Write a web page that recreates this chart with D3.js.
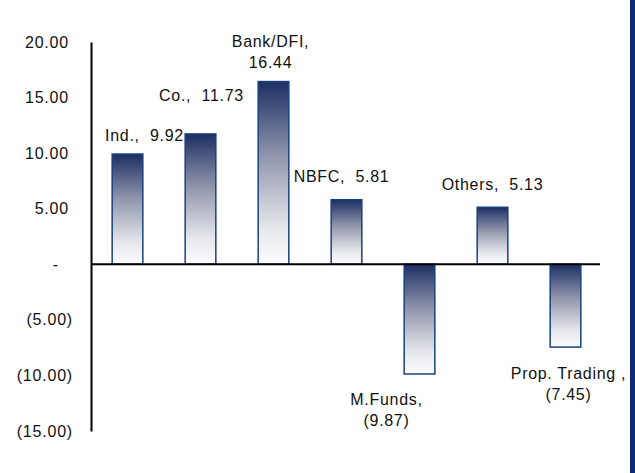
<!DOCTYPE html>
<html>
<head>
<meta charset="utf-8">
<script src="https://cdn.jsdelivr.net/npm/d3@7"></script>
<style>
  html, body { margin: 0; padding: 0; background: #fff; }
  svg { display: block; font-family: "Liberation Sans", Arial, sans-serif; }
</style>
</head>
<body>
<svg id="chart" width="635" height="473"></svg>
<script>
// Net flows by investor type
const categories = ["Ind.", "Co.", "Bank/DFI", "NBFC", "M.Funds", "Others", "Prop. Trading"];
const values = [9.92, 11.73, 16.44, 5.81, -9.87, 5.13, -7.45];
const labelLines = [
  ["Ind.,  9.92"],
  ["Co.,  11.73"],
  ["Bank/DFI,", "16.44"],
  ["NBFC,  5.81"],
  ["M.Funds,", "(9.87)"],
  ["Others,  5.13"],
  ["Prop. Trading ,", "(7.45)"]
];
const yTicks = [20, 15, 10, 5, 0, -5, -10, -15];

// label placement relative to the bar end (dx from bar centre, dy to the baseline nearest the bar)
const labelOffsets = [
  { dx: 17, dy: -13 },
  { dx: 1, dy: -33 },
  { dx: -3, dy: -14 },
  { dx: -5, dy: -18 },
  { dx: -33, dy: 31 },
  { dx: 0, dy: -17 },
  { dx: 3, dy: 32 }
];

const svg = d3.select("#chart");
const H = 473;

// dark edge strip on the right
svg.append("rect").attr("x", 630).attr("y", 0).attr("width", 5).attr("height", H).attr("fill", "#0f2d75");

const x = d3.scaleBand().domain(categories).range([91, 602]).paddingInner(0.58).paddingOuter(0.29);
const y = d3.scaleLinear().domain([-15, 20]).range([431, 42]);

const defs = svg.append("defs");
const grad = defs.append("linearGradient").attr("id", "barGrad")
  .attr("x1", 0).attr("y1", 0).attr("x2", 0).attr("y2", 1);
grad.append("stop").attr("offset", "0%").attr("stop-color", "#1c2e63");
grad.append("stop").attr("offset", "40%").attr("stop-color", "#8f94ab");
grad.append("stop").attr("offset", "80%").attr("stop-color", "#e6e7ec");
grad.append("stop").attr("offset", "100%").attr("stop-color", "#fdfdfe");

const fmt = v => v === 0 ? "-" : (v < 0 ? "(" + d3.format(".2f")(-v) + ")" : d3.format(".2f")(v));

// y axis
const yAxis = d3.axisLeft(y).tickValues(yTicks).tickFormat(fmt).tickSize(0).tickSizeOuter(0).tickPadding(18);
const gy = svg.append("g").attr("transform", "translate(91,0)").call(yAxis);
gy.select(".domain").attr("stroke", "#000").attr("stroke-width", 2);
gy.selectAll(".tick text")
  .attr("font-size", 16)
  .attr("letter-spacing", "0.8px")
  .attr("fill", "#111")
  .attr("font-family", "Liberation Sans, Arial, sans-serif")
  .attr("dx", d => d === 0 ? -14 : (d < 0 ? 0 : -4));

// bars
svg.append("g").selectAll("rect").data(values).join("rect")
  .attr("x", (d, i) => x(categories[i]))
  .attr("width", x.bandwidth())
  .attr("y", d => y(Math.max(0, d)))
  .attr("height", d => Math.abs(y(d) - y(0)))
  .attr("fill", "url(#barGrad)")
  .attr("stroke", "#19427c")
  .attr("stroke-width", 1.5);

// zero line
svg.append("line").attr("x1", 91).attr("x2", 600).attr("y1", y(0)).attr("y2", y(0))
  .attr("stroke", "#000").attr("stroke-width", 2);

// data labels
const lg = svg.append("g").attr("font-size", 16).attr("fill", "#111").attr("letter-spacing", "0.7px");
values.forEach((v, i) => {
  const cx = x(categories[i]) + x.bandwidth() / 2 + labelOffsets[i].dx;
  const lines = labelLines[i];
  const base = y(v) + labelOffsets[i].dy - (v >= 0 ? (lines.length - 1) * 21 : 0);
  const t = lg.append("text").attr("text-anchor", "middle").attr("xml:space", "preserve");
  lines.forEach((s, k) => {
    t.append("tspan").attr("x", cx).attr("y", base + k * 21).text(s);
  });
});
</script>
</body>
</html>
